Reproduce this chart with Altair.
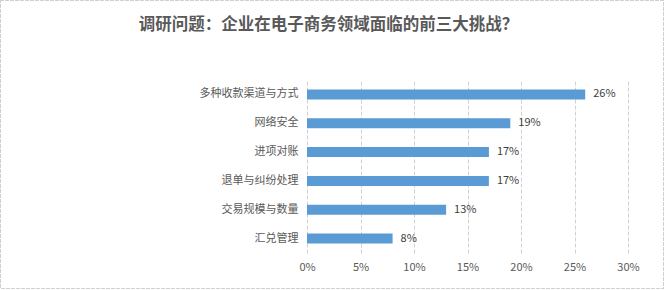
import altair as alt
import pandas as pd

categories = ["多种收款渠道与方式", "网络安全", "进项对账", "退单与纠纷处理", "交易规模与数量", "汇兑管理"]
values = [26, 19, 17, 17, 13, 8]
labels = ["26%", "19%", "17%", "17%", "13%", "8%"]

df = pd.DataFrame({"cat": categories, "val": values, "lab": labels})

FONT = "Noto Sans CJK SC"

y_enc = alt.Y("cat:N", sort=categories, title=None,
              scale=alt.Scale(paddingInner=0.65, paddingOuter=0.325),
              axis=alt.Axis(domain=False, ticks=False, labelFontSize=11, labelColor="#595959",
                            labelFont=FONT, labelPadding=9, grid=False))
x_enc = alt.X("val:Q", title=None,
              scale=alt.Scale(domain=[0, 30], nice=False),
              axis=alt.Axis(values=[0, 5, 10, 15, 20, 25, 30], labelExpr="datum.value + '%'",
                            domain=False, ticks=False, grid=True, gridColor="#d0d0d0",
                            gridDash=[4, 2], gridWidth=1, labelFontSize=11, labelColor="#595959",
                            labelFont=FONT, labelPadding=8, labelFlush=False))

bars = alt.Chart(df).mark_bar(color="#5B9BD5", size=10).encode(x=x_enc, y=y_enc)
text = alt.Chart(df).mark_text(align="left", dx=8, fontSize=11, color="#404040", font=FONT).encode(
    x="val:Q", y=alt.Y("cat:N", sort=categories), text="lab:N")

border = alt.Chart(df).mark_rect(fill=None, stroke="#d0d0d0", strokeDash=[3, 2], strokeWidth=1).encode(
    x=alt.value(-306.5), x2=alt.value(356.5), y=alt.value(-79.5), y2=alt.value(208.5))

chart = alt.layer(border, bars, text).properties(
    width=321, height=173,
    padding={"left": 307, "top": 80, "right": 37, "bottom": 37},
    autosize="none",
    background="white",
    title=alt.TitleParams("调研问题：企业在电子商务领域面临的前三大挑战？", fontSize=16.5, font=FONT,
                          fontWeight="bold", color="#595959", anchor="middle", dx=-139, offset=-33),
).configure_view(stroke=None)

chart.save("out.html", embed_options={"renderer": "svg", "actions": False})
